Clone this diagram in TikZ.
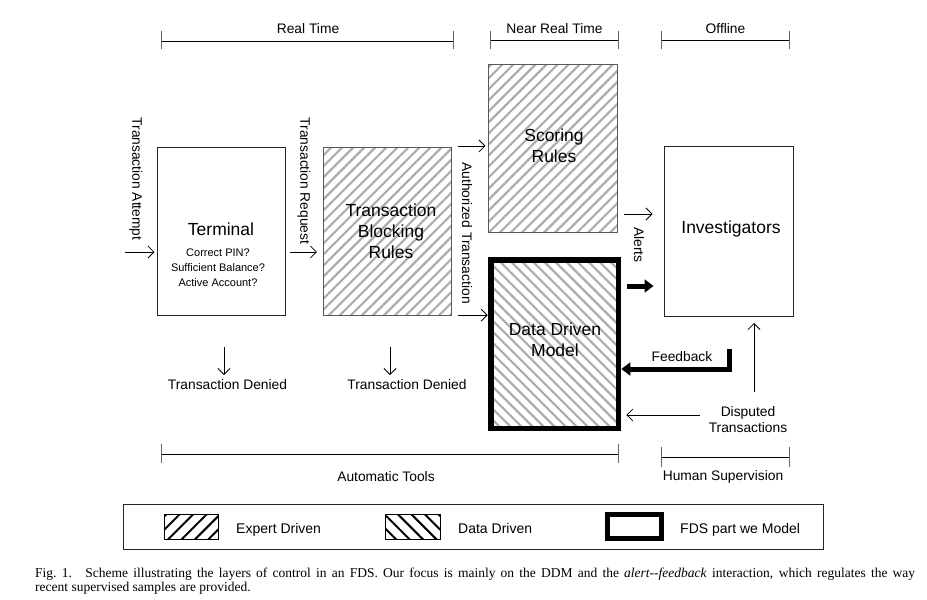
\documentclass[tikz,border=0pt]{standalone}
\usepackage{fontspec}
\setmainfont{Liberation Sans}
\newfontfamily\capfont{Liberation Serif}
\usetikzlibrary{arrows.meta,patterns.meta}
\begin{document}
\begin{tikzpicture}[x=1pt,y=-1pt,
  lbl/.style={font=\fontsize{13.8}{16}\selectfont, inner sep=0pt},
  ttl/.style={font=\fontsize{17.5}{21}\selectfont, align=center, inner sep=0pt},
  subt/.style={font=\fontsize{11}{15}\selectfont, align=center, inner sep=0pt},
  legtxt/.style={font=\fontsize{14}{16}\selectfont, inner sep=0pt, anchor=base west},
  captxt/.style={font=\capfont\fontsize{13.5}{14}\selectfont, inner sep=0pt, anchor=base west},
  plainbox/.style={draw=black!85, line width=1pt, inner sep=0pt},
  expertbox/.style={plainbox, draw=black!65, pattern={Lines[angle=45,distance=7.8pt,line width=2.2pt]}, pattern color=black!32},
  databox/.style={draw=black, line width=5.5pt, inner sep=0pt, pattern={Lines[angle=-45,distance=7.8pt,line width=2.2pt]}, pattern color=black!32},
  oarr/.style={draw=black, line width=0.8pt, -{Straight Barb[length=6pt,width=12pt,line width=0.8pt]}},
  tarr/.style={draw=black, line width=5pt, -{Triangle[length=9pt,width=13pt]}},
  brk/.style={draw=black, line width=1pt},
  tick/.style={draw=black!60, line width=1pt}
]
\useasboundingbox (0,0) rectangle (927,600);
\fill[white] (0,0) rectangle (927,600);

% brackets top
\draw[brk] (161,41) -- (453,41);
\draw[tick] (161,31) -- (161,49) (453,31) -- (453,49);
\node[lbl] (lrt) at (308,29) {Real Time};
\draw[brk] (490,40) -- (618,40);
\draw[tick] (490,31) -- (490,49) (618,31) -- (618,49);
\node[lbl] (lnrt) at (554.5,29) {Near Real Time};
\draw[brk] (661,40) -- (789,40);
\draw[tick] (661,31) -- (661,49) (789,31) -- (789,49);
\node[lbl] (loff) at (725.5,29) {Offline};

% boxes
\node[plainbox, minimum width=128pt, minimum height=168pt] (term) at (221,231) {};
\node[expertbox, minimum width=128pt, minimum height=168pt] (blk) at (387,231) {};
\node[expertbox, minimum width=129pt, minimum height=168pt] (scr) at (552.5,148) {};
\node[databox, minimum width=127.5pt, minimum height=168.5pt] (ddm) at (554.5,344) {};
\node[plainbox, minimum width=129pt, minimum height=170pt] (inv) at (728.5,231.5) {};

% box texts
\node[ttl] (tterm) at (221,229) {Terminal};
\node[subt] (sterm) at (218,268) {Correct PIN?\\Sufficient Balance?\\Active Account?};
\node[ttl] (tblk) at (391,231) {Transaction\\Blocking\\Rules};
\node[ttl] (tscr) at (554,145.5) {Scoring\\Rules};
\node[ttl] (tddm) at (555,340) {Data Driven\\Model};
\node[ttl] (tinv) at (731,229) {Investigators};

% input arrows
\coordinate (ta) at (125,252);
\draw[oarr, shorten >=2pt] (ta) -- (ta -| term.west);
\node[lbl, rotate=-90] (lta) at (136,179) {Transaction Attempt};
\coordinate (tr) at (290,252);
\draw[oarr, shorten >=5pt] (tr) -- (tr -| blk.west);
\node[lbl, rotate=-90] (ltr) at (304,181) {Transaction Request};

% authorized transaction
\draw[oarr, shorten <=6pt, shorten >=2pt] (blk.north east) -- (blk.north east -| scr.west);
\draw[oarr, shorten <=6pt, shorten >=2pt] ([yshift=1pt]blk.south east) -- ([yshift=1pt]blk.south east -| ddm.west);
\node[lbl, rotate=-90] (lat) at (467,233) {Authorized Transaction};

% alerts
\coordinate (al) at (624,214);
\draw[oarr, shorten >=11pt] (al) -- (al -| inv.west);
\node[lbl, rotate=-90] (lal) at (639,245) {Alerts};
\coordinate (al2) at (627,286);
\draw[tarr, shorten >=10pt] (al2) -- (al2 -| inv.west);

% feedback
\coordinate (fb1) at (729,349);
\coordinate (fb2) at (729,369);
\draw[tarr, line cap=butt, line join=miter] (fb1) -- (fb2) -- ([xshift=2pt]fb2 -| ddm.east);
\node[lbl] (lfb) at (682,357) {Feedback};

% disputed
\coordinate (d1) at (754,392);
\draw[oarr, shorten >=6pt] (d1) -- (d1 |- inv.south);
\coordinate (d2) at (700,415);
\draw[oarr, shorten >=7pt] (d2) -- (d2 -| ddm.east);
\node[lbl, align=center] (ldis) at (748,420) {Disputed\\Transactions};

% denied
\coordinate (dn1) at (224,347);
\coordinate (dn1e) at (224,375);
\draw[oarr] (dn1) -- (dn1e);
\node[lbl] (ldn1) at (227.5,385) {Transaction Denied};
\coordinate (dn2) at (390,347);
\coordinate (dn2e) at (390,375);
\draw[oarr] (dn2) -- (dn2e);
\node[lbl] (ldn2) at (407,385) {Transaction Denied};

% bottom brackets
\draw[brk] (161,454) -- (618,454);
\draw[tick] (161,444) -- (161,463) (618,444) -- (618,463);
\node[lbl] (lauto) at (386,477) {Automatic Tools};
\draw[brk] (661,457) -- (789,457);
\draw[tick] (661,447) -- (661,467) (789,447) -- (789,467);
\node[lbl] (lhum) at (723,477) {Human Supervision};

% legend
\node[draw=black!85, line width=1pt, minimum width=700pt, minimum height=45pt, inner sep=0pt] (leg) at (473,526.5) {};
\node[draw=black, line width=1pt, minimum width=54pt, minimum height=25pt, inner sep=0pt,
      pattern={Lines[angle=45,distance=9.5pt,line width=2pt]}, pattern color=black] (sw1) at (191,526.5) {};
\node[legtxt] (lsw1) at (236,533) {Expert Driven};
\node[draw=black, line width=1pt, minimum width=55pt, minimum height=25pt, inner sep=0pt,
      pattern={Lines[angle=-45,distance=9.5pt,line width=2pt]}, pattern color=black] (sw2) at (412.5,526.5) {};
\node[legtxt] (lsw2) at (458,533) {Data Driven};
\node[draw=black, line width=5pt, minimum width=54pt, minimum height=24pt, inner sep=0pt] (sw3) at (634.5,526.5) {};
\node[legtxt] (lsw3) at (680,533) {FDS part we Model};

% caption
\node[captxt] (cap1) at (35,577)
  {\makebox[880pt][s]{Fig.\ 1.\hspace{1em}Scheme illustrating the layers of control in an FDS. Our focus is mainly on the DDM and the \textit{alert--feedback} interaction, which regulates the way}};
\node[captxt] (cap2) at (35,591) {recent supervised samples are provided.};
\end{tikzpicture}
\end{document}
